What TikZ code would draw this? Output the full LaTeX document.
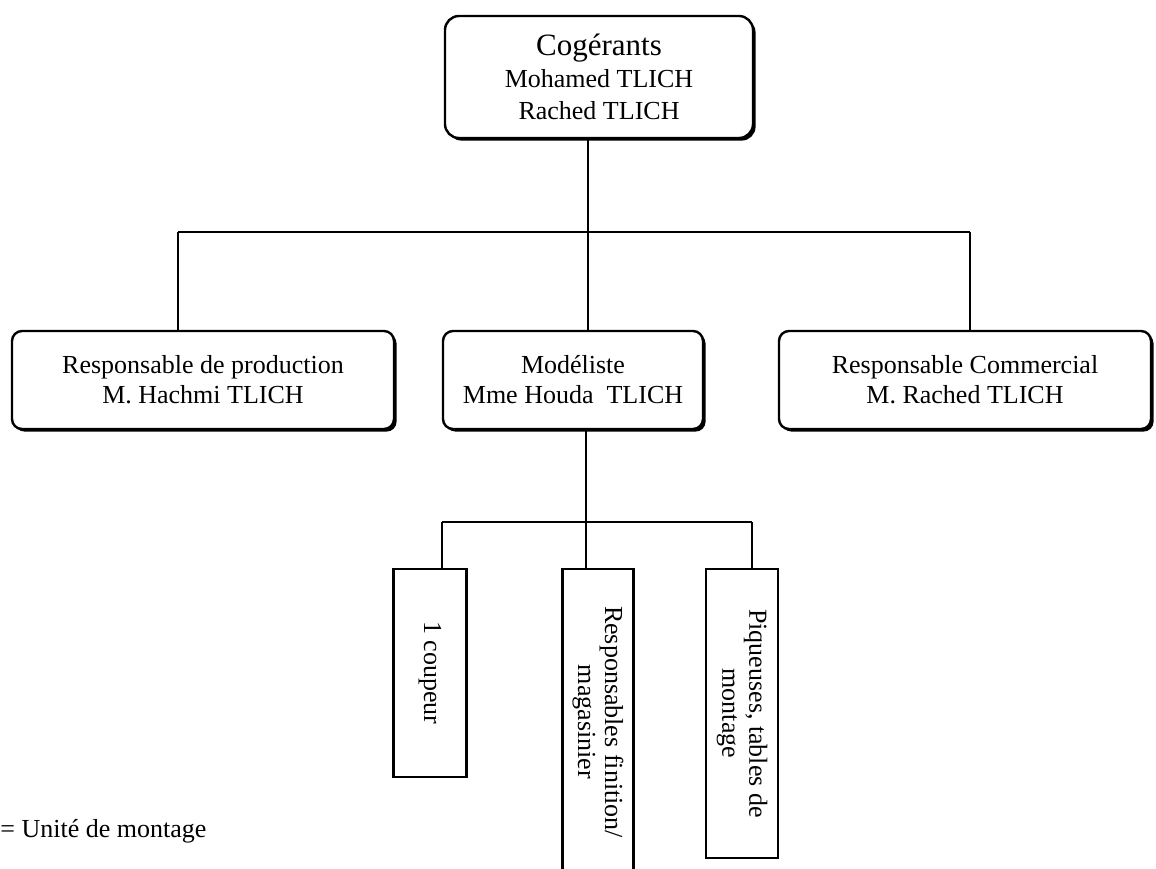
\documentclass[tikz,border=0pt]{standalone}
\usepackage{fontspec}
\setmainfont{Liberation Serif}
\usetikzlibrary{shadows}

\begin{document}
\begin{tikzpicture}[x=0.5pt,y=0.5pt]
	\tikzstyle{every node}+=[inner sep=0pt, font=\fontsize{13}{15}\selectfont]
	\tikzstyle{chef}=[draw=black, line width=1.2pt, fill=white, rounded corners=5pt, align=center, drop shadow={shadow xshift=1.3pt, shadow yshift=-1.3pt, fill=black, opacity=1}]
	\tikzstyle{unite}=[draw=black, line width=1.2pt, fill=white, rotate=-90, align=center, font=\fontsize{13}{13.5}\selectfont]
	\tikzstyle{lien}=[black, line width=0.9pt]
	\useasboundingbox (0,0) rectangle (1156,-868);
	\clip (0,0) rectangle (1156,-868);
	\node [chef, rounded corners=7pt, minimum width=154pt, minimum height=61pt, font=\fontsize{13}{16}\selectfont] (cog) at (599,-77) {{\fontsize{15.5}{16}\selectfont Cogérants}\\Mohamed TLICH\\Rached TLICH};
	\node [chef, minimum width=191pt, minimum height=49pt] (prod) at (203,-380) {Responsable de production\\M. Hachmi TLICH};
	\node [chef, minimum width=130pt, minimum height=49pt] (mod) at (573,-380) {Modéliste\\Mme Houda\ \ TLICH};
	\node [chef, minimum width=186pt, minimum height=49pt] (com) at (965,-380) {Responsable Commercial\\M. Rached TLICH};
	\coordinate (haut) at (588,-232);
	\coordinate (gauche) at (178,-232);
	\coordinate (droite) at (970,-232);
	\draw [lien] (cog.south -| haut) -- (haut);
	\draw [lien] (gauche) -- (droite);
	\draw [lien] (gauche) -- (gauche |- prod.north);
	\draw [lien] (haut) -- (haut |- mod.north);
	\draw [lien] (droite) -- (droite |- com.north);
	\node [unite, minimum width=104pt, minimum height=36.5pt] (coup) at (430,-673) {1 coupeur};
	\node [unite, minimum width=153pt, minimum height=35.5pt] (fini) at (598,-722) {Responsables finition/\\magasinier};
	\node [unite, minimum width=144.5pt, minimum height=36pt] (piq) at (742,-713.5) {Piqueuses, tables de\\montage};
	\coordinate (bas) at (586,-522);
	\coordinate (bg) at (442,-522);
	\coordinate (bd) at (752,-522);
	\draw [lien] (mod.south -| bas) -- (bas);
	\draw [lien] (bg) -- (bd);
	\draw [lien] (bg) -- (bg |- coup.west);
	\draw [lien] (bas) -- (bas |- fini.west);
	\draw [lien] (bd) -- (bd |- piq.west);
	\node [anchor=base west] (leg) at (0,-837) {= Unité de montage};
\end{tikzpicture}
\end{document}
